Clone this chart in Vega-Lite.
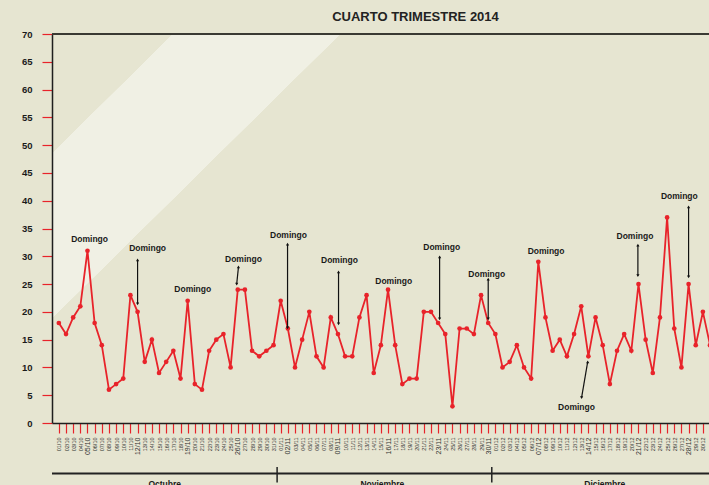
{
  "$schema": "https://vega.github.io/schema/vega-lite/v6.json",
  "width": 657,
  "height": 389,
  "autosize": {"type": "none"},
  "padding": {"left": 52, "top": 34, "right": 0, "bottom": 62},
  "background": "#e6e5d1",
  "config": {
    "font": "Liberation Sans",
    "view": {
      "stroke": null,
      "fill": {
        "gradient": "linear",
        "x1": 0, "y1": 0, "x2": 0.5, "y2": 0.3,
        "stops": [
          {"offset": 0, "color": "#e6e5d1"},
          {"offset": 0.27, "color": "#e6e5d1"},
          {"offset": 0.271, "color": "#f0f0e4"},
          {"offset": 0.645, "color": "#f0f0e4"},
          {"offset": 0.646, "color": "#e6e5d1"},
          {"offset": 1, "color": "#e6e5d1"}
        ]
      }
    }
  },
  "title": {
    "text": "CUARTO TRIMESTRE 2014",
    "fontSize": 13,
    "fontWeight": "bold",
    "color": "#222222",
    "anchor": "middle",
    "dx": 35,
    "offset": 5
  },
  "data": {
    "values": [
      {"date": "2014-10-01", "v": 18}, {"date": "2014-10-02", "v": 16}, {"date": "2014-10-03", "v": 19}, {"date": "2014-10-04", "v": 21},
      {"date": "2014-10-05", "v": 31}, {"date": "2014-10-06", "v": 18}, {"date": "2014-10-07", "v": 14}, {"date": "2014-10-08", "v": 6},
      {"date": "2014-10-09", "v": 7}, {"date": "2014-10-10", "v": 8}, {"date": "2014-10-11", "v": 23}, {"date": "2014-10-12", "v": 20},
      {"date": "2014-10-13", "v": 11}, {"date": "2014-10-14", "v": 15}, {"date": "2014-10-15", "v": 9}, {"date": "2014-10-16", "v": 11},
      {"date": "2014-10-17", "v": 13}, {"date": "2014-10-18", "v": 8}, {"date": "2014-10-19", "v": 22}, {"date": "2014-10-20", "v": 7},
      {"date": "2014-10-21", "v": 6}, {"date": "2014-10-22", "v": 13}, {"date": "2014-10-23", "v": 15}, {"date": "2014-10-24", "v": 16},
      {"date": "2014-10-25", "v": 10}, {"date": "2014-10-26", "v": 24}, {"date": "2014-10-27", "v": 24}, {"date": "2014-10-28", "v": 13},
      {"date": "2014-10-29", "v": 12}, {"date": "2014-10-30", "v": 13}, {"date": "2014-10-31", "v": 14},
      {"date": "2014-11-01", "v": 22}, {"date": "2014-11-02", "v": 17}, {"date": "2014-11-03", "v": 10}, {"date": "2014-11-04", "v": 15},
      {"date": "2014-11-05", "v": 20}, {"date": "2014-11-06", "v": 12}, {"date": "2014-11-07", "v": 10}, {"date": "2014-11-08", "v": 19},
      {"date": "2014-11-09", "v": 16}, {"date": "2014-11-10", "v": 12}, {"date": "2014-11-11", "v": 12}, {"date": "2014-11-12", "v": 19},
      {"date": "2014-11-13", "v": 23}, {"date": "2014-11-14", "v": 9}, {"date": "2014-11-15", "v": 14}, {"date": "2014-11-16", "v": 24},
      {"date": "2014-11-17", "v": 14}, {"date": "2014-11-18", "v": 7}, {"date": "2014-11-19", "v": 8}, {"date": "2014-11-20", "v": 8},
      {"date": "2014-11-21", "v": 20}, {"date": "2014-11-22", "v": 20}, {"date": "2014-11-23", "v": 18}, {"date": "2014-11-24", "v": 16},
      {"date": "2014-11-25", "v": 3}, {"date": "2014-11-26", "v": 17}, {"date": "2014-11-27", "v": 17}, {"date": "2014-11-28", "v": 16},
      {"date": "2014-11-29", "v": 23}, {"date": "2014-11-30", "v": 18},
      {"date": "2014-12-01", "v": 16}, {"date": "2014-12-02", "v": 10}, {"date": "2014-12-03", "v": 11}, {"date": "2014-12-04", "v": 14},
      {"date": "2014-12-05", "v": 10}, {"date": "2014-12-06", "v": 8}, {"date": "2014-12-07", "v": 29}, {"date": "2014-12-08", "v": 19},
      {"date": "2014-12-09", "v": 13}, {"date": "2014-12-10", "v": 15}, {"date": "2014-12-11", "v": 12}, {"date": "2014-12-12", "v": 16},
      {"date": "2014-12-13", "v": 21}, {"date": "2014-12-14", "v": 12}, {"date": "2014-12-15", "v": 19}, {"date": "2014-12-16", "v": 14},
      {"date": "2014-12-17", "v": 7}, {"date": "2014-12-18", "v": 13}, {"date": "2014-12-19", "v": 16}, {"date": "2014-12-20", "v": 13},
      {"date": "2014-12-21", "v": 25}, {"date": "2014-12-22", "v": 15}, {"date": "2014-12-23", "v": 9}, {"date": "2014-12-24", "v": 19},
      {"date": "2014-12-25", "v": 37}, {"date": "2014-12-26", "v": 17}, {"date": "2014-12-27", "v": 10}, {"date": "2014-12-28", "v": 25},
      {"date": "2014-12-29", "v": 14}, {"date": "2014-12-30", "v": 20}, {"date": "2014-12-31", "v": 14}
    ]
  },
  "layer": [
    {
      "mark": {"type": "line", "color": "#e8232a", "strokeWidth": 1.8},
      "encoding": {
        "x": {
          "field": "date", "type": "temporal", "title": null,
          "scale": {
            "type": "utc",
            "domain": [
              {"year": 2014, "month": 9, "date": 30, "hours": 1, "utc": true},
              {"year": 2014, "month": 12, "date": 30, "hours": 20, "minutes": 30, "utc": true}
            ]
          },
          "axis": {
            "format": "%d/%m",
            "tickCount": {"interval": "day", "step": 1},
            "labelAngle": -90,
            "labelOverlap": false,
            "labelFlush": false,
            "labelBound": false,
            "labelFontSize": {"condition": {"test": "utcday(datum.value) == 0", "value": 7}, "value": 5.5},
            "labelColor": "#333333",
            "labelPadding": 4,
            "tickColor": "#e8232a",
            "tickSize": 10,
            "tickWidth": 1.2,
            "domainColor": "#1e1e1e",
            "domainWidth": 1.5,
            "grid": false
          }
        },
        "y": {
          "field": "v", "type": "quantitative", "title": null,
          "scale": {"domain": [0, 70], "nice": false, "zero": true},
          "axis": {
            "values": [0, 5, 10, 15, 20, 25, 30, 35, 40, 45, 50, 55, 60, 65, 70],
            "tickCount": 30,
            "labelOverlap": false,
            "labelFontWeight": "bold",
            "labelFontSize": 9.5,
            "labelColor": "#1a1a1a",
            "labelPadding": 10,
            "tickColor": "#e8232a",
            "tickSize": 10,
            "tickWidth": 1.2,
            "domainColor": "#1e1e1e",
            "domainWidth": 1.5,
            "grid": false
          }
        }
      }
    },
    {
      "mark": {"type": "point", "filled": true, "color": "#e8232a", "size": 22, "opacity": 1},
      "encoding": {
        "x": {"field": "date", "type": "temporal", "title": null},
        "y": {"field": "v", "type": "quantitative", "title": null}
      }
    },
    {
      "mark": {"type": "rule", "color": "#3a3a33", "strokeWidth": 2},
      "encoding": {"y": {"datum": 70, "type": "quantitative"}}
    },
    {
      "data": {
        "values": [
          {"x1": "2014-10-12T00:00:00Z", "y1": 29.35, "x2": "2014-10-12T00:00:00Z", "y2": 21.45},
          {"x1": "2014-10-26T02:24:00Z", "y1": 28.1, "x2": "2014-10-25T20:24:00Z", "y2": 25.0},
          {"x1": "2014-11-01T23:00:00Z", "y1": 32.2, "x2": "2014-11-01T23:00:00Z", "y2": 17.1},
          {"x1": "2014-11-09T02:00:00Z", "y1": 27.2, "x2": "2014-11-09T02:00:00Z", "y2": 17.85},
          {"x1": "2014-11-23T05:00:00Z", "y1": 29.9, "x2": "2014-11-23T05:00:00Z", "y2": 18.75},
          {"x1": "2014-11-30T00:00:00Z", "y1": 25.9, "x2": "2014-11-30T00:00:00Z", "y2": 18.75},
          {"x1": "2014-12-13T21:36:00Z", "y1": 11.0, "x2": "2014-12-13T01:12:00Z", "y2": 4.56},
          {"x1": "2014-12-20T22:00:00Z", "y1": 32.0, "x2": "2014-12-20T22:00:00Z", "y2": 26.5},
          {"x1": "2014-12-28T00:00:00Z", "y1": 38.9, "x2": "2014-12-28T00:00:00Z", "y2": 26.3}
        ]
      },
      "layer": [
        {
          "mark": {"type": "rule", "color": "#111111", "strokeWidth": 1.2},
          "encoding": {
            "x": {"field": "x1", "type": "temporal", "title": null},
            "x2": {"field": "x2"},
            "y": {"field": "y1", "type": "quantitative", "title": null},
            "y2": {"field": "y2"}
          }
        },
        {
          "mark": {"type": "point", "shape": "triangle-up", "filled": true, "color": "#111111", "size": 10, "opacity": 1},
          "encoding": {
            "x": {"field": "x1", "type": "temporal", "title": null},
            "y": {"field": "y1", "type": "quantitative", "title": null}
          }
        },
        {
          "mark": {"type": "point", "shape": "triangle-down", "filled": true, "color": "#111111", "size": 10, "opacity": 1},
          "encoding": {
            "x": {"field": "x2", "type": "temporal", "title": null},
            "y": {"field": "y2", "type": "quantitative", "title": null}
          }
        }
      ]
    },
    {
      "data": {
        "values": [
          {"t": "2014-10-05T07:00:00Z", "y": 33.1, "label": "Domingo"},
          {"t": "2014-10-13T09:40:00Z", "y": 31.5, "label": "Domingo"},
          {"t": "2014-10-19T17:00:00Z", "y": 24.1, "label": "Domingo"},
          {"t": "2014-10-26T19:00:00Z", "y": 29.5, "label": "Domingo"},
          {"t": "2014-11-02T02:00:00Z", "y": 33.8, "label": "Domingo"},
          {"t": "2014-11-09T05:00:00Z", "y": 29.35, "label": "Domingo"},
          {"t": "2014-11-16T19:00:00Z", "y": 25.6, "label": "Domingo"},
          {"t": "2014-11-23T12:00:00Z", "y": 31.7, "label": "Domingo"},
          {"t": "2014-11-29T19:00:00Z", "y": 26.8, "label": "Domingo"},
          {"t": "2014-12-08T02:00:00Z", "y": 31.0, "label": "Domingo"},
          {"t": "2014-12-12T08:00:00Z", "y": 2.95, "label": "Domingo"},
          {"t": "2014-12-20T12:00:00Z", "y": 33.7, "label": "Domingo"},
          {"t": "2014-12-26T17:00:00Z", "y": 40.85, "label": "Domingo"}
        ]
      },
      "mark": {"type": "text", "fontSize": 8.5, "fontWeight": "bold", "color": "#1a1a1a", "baseline": "middle", "align": "center"},
      "encoding": {
        "x": {"field": "t", "type": "temporal", "title": null},
        "y": {"field": "y", "type": "quantitative", "title": null},
        "text": {"field": "label"}
      }
    },
    {
      "data": {"values": [{"x1": "2014-09-30T01:00:00Z", "x2": "2015-01-10T00:00:00Z", "y": -9.1}]},
      "mark": {"type": "rule", "color": "#222222", "strokeWidth": 2},
      "encoding": {
        "x": {"field": "x1", "type": "temporal", "title": null},
        "x2": {"field": "x2"},
        "y": {"field": "y", "type": "quantitative", "title": null}
      }
    },
    {
      "data": {
        "values": [
          {"x": "2014-10-31T12:00:00Z", "y1": -7.9, "y2": -10.7},
          {"x": "2014-11-30T12:00:00Z", "y1": -7.9, "y2": -10.7}
        ]
      },
      "mark": {"type": "rule", "color": "#222222", "strokeWidth": 1.5},
      "encoding": {
        "x": {"field": "x", "type": "temporal", "title": null},
        "y": {"field": "y1", "type": "quantitative", "title": null},
        "y2": {"field": "y2"}
      }
    },
    {
      "data": {
        "values": [
          {"x": "2014-10-15T19:00:00Z", "y": -10.2, "m": "Octubre"},
          {"x": "2014-11-15T05:00:00Z", "y": -10.2, "m": "Noviembre"},
          {"x": "2014-12-16T07:00:00Z", "y": -10.2, "m": "Diciembre"}
        ]
      },
      "mark": {"type": "text", "fontSize": 8.5, "fontWeight": "bold", "color": "#1a1a1a", "baseline": "top", "align": "center"},
      "encoding": {
        "x": {"field": "x", "type": "temporal", "title": null},
        "y": {"field": "y", "type": "quantitative", "title": null},
        "text": {"field": "m"}
      }
    }
  ]
}
